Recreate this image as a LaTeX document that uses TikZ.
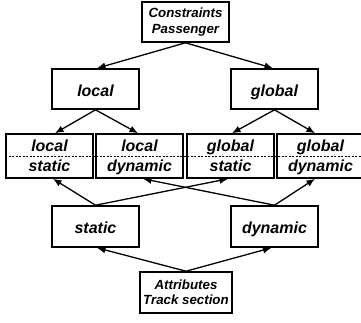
\documentclass[tikz,border=0pt]{standalone}
\usepackage{fontspec}
\setmainfont{Liberation Sans}
\usetikzlibrary{arrows.meta}
\begin{document}
\begin{tikzpicture}[x=1pt,y=-1pt,
  box/.style={draw, line width=1.6pt, rectangle, inner sep=0pt, align=center},
  big/.style={font=\fontsize{16}{17}\selectfont\bfseries\itshape, text height=15pt, text depth=1pt},
  small/.style={font=\fontsize{13.3}{15.3}\selectfont\bfseries\itshape},
  arr/.style={line width=1.3pt, -{Latex[length=8.5pt,width=7pt]}},
  lbl/.style={inner sep=0pt, anchor=base, font=\fontsize{16}{17}\selectfont\bfseries\itshape}
]
\useasboundingbox (0,0) rectangle (361,322);
\begin{scope}
\clip (0,0) rectangle (361,322);
% top / bottom
\node[box, small, minimum width=87pt, minimum height=40pt] (cp) at (185.5,22) {Constraints\\Passenger};
\node[box, big, minimum width=87pt, minimum height=40pt] (loc) at (95.5,89) {local};
\node[box, big, minimum width=87pt, minimum height=40pt] (glo) at (274.5,89) {global};
\node[box, big, minimum width=87pt, minimum height=41pt] (sta) at (95.5,226.5) {static};
\node[box, big, minimum width=87pt, minimum height=41pt] (dyn) at (274.5,226.5) {dynamic};
\node[box, small, minimum width=92pt, minimum height=41pt] (att) at (186,292.5) {Attributes\\Track section};
% four combined boxes
\node[box, minimum width=87pt, minimum height=44pt] (ls) at (49.5,156) {};
\node[box, minimum width=87pt, minimum height=44pt] (ld) at (139.5,156) {};
\node[box, minimum width=87pt, minimum height=44pt] (gs) at (230.5,156) {};
\node[box, minimum width=87pt, minimum height=44pt] (gd) at (320.5,156) {};
\coordinate (dl) at (ls.west);
\coordinate (dr) at (gd.east);
\draw[line width=1pt, dash pattern=on 2pt off 1.5pt] (dl) -- (dr);
\node[lbl] (ls1) at (49.5,151) {local};
\node[lbl] (ls2) at (49.5,171) {static};
\node[lbl] (ld1) at (139.5,151) {local};
\node[lbl] (ld2) at (139.5,171) {dynamic};
\node[lbl] (gs1) at (230.5,151) {global};
\node[lbl] (gs2) at (230.5,171) {static};
\node[lbl] (gd1) at (320.5,151) {global};
\node[lbl] (gd2) at (320.5,171) {dynamic};
% arrows
\draw[arr] (cp.south) -- ([xshift=1.5pt]loc.north);
\draw[arr] (cp.south) -- ([xshift=-1.5pt]glo.north);
\draw[arr] (loc.south) -- ([xshift=5.5pt]ls.north);
\draw[arr] (loc.south) -- ([xshift=-1.5pt]ld.north);
\draw[arr] (glo.south) -- ([xshift=1.5pt]gs.north);
\draw[arr] (glo.south) -- ([xshift=-5.5pt]gd.north);
\draw[arr] (sta.north) -- ([xshift=3.5pt]ls.south);
\draw[arr] (sta.north) -- ([xshift=-2.5pt]gs.south);
\draw[arr] (dyn.north) -- ([xshift=3.5pt]ld.south);
\draw[arr] (dyn.north) -- ([xshift=-5.5pt]gd.south);
\draw[arr] (att.north) -- ([xshift=1.5pt]sta.south);
\draw[arr] (att.north) -- ([xshift=-3pt]dyn.south);
\end{scope}
\end{tikzpicture}
\end{document}
